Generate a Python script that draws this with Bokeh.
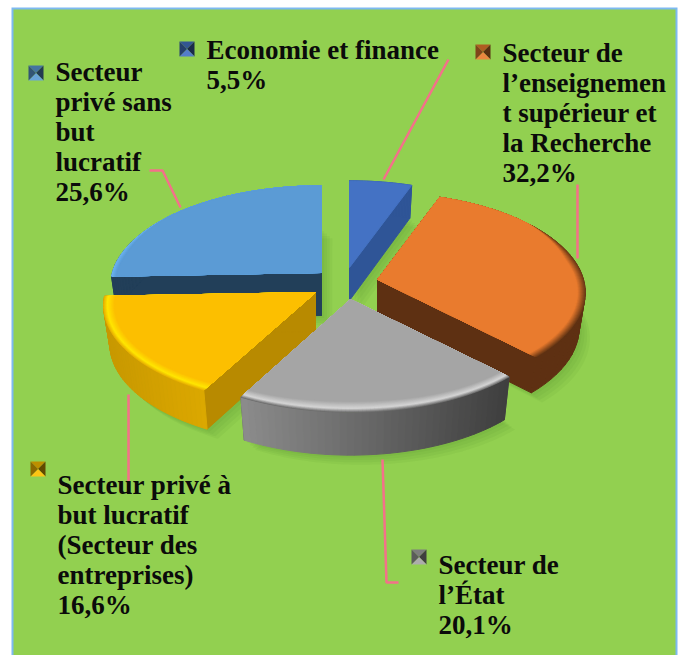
import math
from bokeh.plotting import figure
from bokeh.models import Range1d, ColumnDataSource
from bokeh.core.properties import value
from bokeh.embed import file_html
from bokeh.resources import INLINE

# ---- data ----
categories = ["Economie et finance", "Secteur de l’enseignement supérieur et la Recherche",
              "Secteur de l’État", "Secteur privé à but lucratif (Secteur des entreprises)",
              "Secteur privé sans but lucratif"]
shares = [5.5, 32.2, 20.1, 16.6, 25.6]
label_lines = [["Economie et finance"],
               ["Secteur de", "l’enseignemen", "t supérieur et", "la Recherche"],
               ["Secteur de", "l’État"],
               ["Secteur privé à", "but lucratif", "(Secteur des", "entreprises)"],
               ["Secteur", "privé sans", "but", "lucratif"]]

# ---- layout & style (image pixels) ----
A, B, P = 206.0, 98.0, 0.13
a_scale = [1.0, 1.0, 1.0, 1.02, 1.015]
WALL_X = 0.97
apex = [(349, 267), (377, 279), (350, 299), (315, 292), (321, 272)]
depth = [33, 36, 43, 39, 43]
top_col = ["#4472C4", "#E97B2E", "#A5A5A5", "#FCBF00", "#5B9BD5"]
cut_col = ["#2F5597", "#5E3012", "#5A5A5A", "#B88A00", "#223F59"]
side_l = ["#2F5597", "#5E3012", "#8C8C8C", "#C89800", "#223F59"]
side_r = ["#2F5597", "#5E3012", "#3E3E3E", "#DCA800", "#223F59"]
rim = [[], [("#6A3815", 0), ("#E97B2E", 1)],
       [("#6E6E6E", 0), ("#D6D6D6", .35), ("#A5A5A5", 1)],
       [("#E8B000", 0), ("#FFE600", .35), ("#FCBF00", 1)],
       [("#6DB4F2", 0), ("#5B9BD5", 1)]]
rim_w = [0, 8, 11, 11, 5]
label_pos = [(206, 49), (502, 52), (438, 564), (57, 484), (55, 71)]
marker_pos = [(179, 41), (475, 44), (411, 549), (30, 461), (28, 65)]
leaders = [([448, 383], [59, 179]), ([577, 577], [184, 258]), ([382, 386, 398], [459, 582, 582]),
           ([128, 128], [394, 485]), ([149, 162, 180], [170, 170, 207])]
FONT = "Liberation Serif"
FS = "27px"
LEAD = 30.2


def hex2(c):
    return [int(c[i:i + 2], 16) for i in (1, 3, 5)]


def mix(c1, c2, t):
    a, b = hex2(c1), hex2(c2)
    return "#%02X%02X%02X" % tuple(round(a[i] + (b[i] - a[i]) * t) for i in range(3))


def proj(th, c, sc=1.0):
    u, v = math.sin(th), math.cos(th)
    d = 1 + P * v
    return c[0] + sc * A * u / d, c[1] - B * v / d


def arc(t0, t1, c, sc=1.0, n=70, inset=0.0):
    out = []
    for i in range(n + 1):
        th = t0 + (t1 - t0) * i / n
        x, y = proj(th, c, sc)
        f = min(1, max(0, (0.62 - math.cos(th)) / 0.4))
        r = math.hypot(x - c[0], y - c[1]) or 1
        k = inset * f / r
        out.append((x - (x - c[0]) * k, y - (y - c[1]) * k))
    return out


def low(q, c, d):
    # the matching point on the lower rim of the slice
    return (c[0] + (q[0] - c[0]) * WALL_X, q[1] + d)


# angles from the values
bounds = [0.0]
for s in shares:
    bounds.append(bounds[-1] + s / sum(shares) * 2 * math.pi)

p = figure(width=683, height=655, output_backend="svg", toolbar_location=None,
           x_range=Range1d(0, 683), y_range=Range1d(655, 0), min_border=0,
           background_fill_color="white", border_fill_color="white", outline_line_color=None)
p.axis.visible = False
p.grid.visible = False

# panel
p.quad(left=[11], right=[677], top=[7], bottom=[655], fill_color="#7DB9F0", line_color=None)
p.quad(left=[13], right=[675], top=[9], bottom=[655], fill_color="#92D050", line_color=None)

# soft shadows
sx, sy = [], []
for i in range(5):
    c, d = apex[i], depth[i]
    a = arc(bounds[i], bounds[i + 1], c, a_scale[i])
    poly = [low(c, c, d)] + [low(q, c, d) for q in a]
    for o in (3, 6, 9, 12):
        sx.append([x + o * 0.9 for x, y in poly])
        sy.append([y + o * 0.8 for x, y in poly])
p.patches(sx, sy, fill_color="#2F5F10", fill_alpha=0.05, line_color=None)

# leader lines sit under the text
for xs, ys in leaders:
    p.line(xs, ys, line_color="#F4708A", line_width=2.5)

# slices, back to front
X, Y, C = [], [], []


def add(poly, col):
    X.append([q[0] for q in poly])
    Y.append([q[1] for q in poly])
    C.append(col)


for i in [4, 0, 1, 3, 2]:
    t0, t1 = bounds[i], bounds[i + 1]
    c, d, sc = apex[i], depth[i], a_scale[i]
    # cut walls
    for th in (t0, t1):
        e = proj(th, c, sc)
        add([c, e, low(e, c, d), low(c, c, d)], cut_col[i])
    # outer wall, in strips so its shade can run along the arc
    a = arc(t0, t1, c, sc, n=40)
    xmin, xmax = min(q[0] for q in a), max(q[0] for q in a)
    for j in range(40):
        q0, q1 = a[j], a[j + 1]
        t = ((q0[0] + q1[0]) / 2 - xmin) / ((xmax - xmin) or 1)
        add([q0, q1, low(q1, c, d), low(q0, c, d)], mix(side_l[i], side_r[i], t))
    # top face with its bevelled rim
    steps = 14 if rim[i] else 0
    add([c] + arc(t0, t1, c, sc), rim[i][0][0] if rim[i] else top_col[i])
    stops = rim[i]
    for s in range(1, steps + 1):
        t = s / steps
        for k in range(len(stops) - 1):
            if stops[k][1] <= t <= stops[k + 1][1]:
                tt = (t - stops[k][1]) / (stops[k + 1][1] - stops[k][1])
                col = mix(stops[k][0], stops[k + 1][0], tt)
                break
        add([c] + arc(t0, t1, c, sc, inset=t * rim_w[i]), col)

src = ColumnDataSource(dict(xs=X, ys=Y, col=C))
p.patches("xs", "ys", source=src, fill_color="col", line_color="col", line_width=1)

# bevelled legend keys and labels
mx, my, mc = [], [], []
tx, ty, tt = [], [], []
KEY = 15
for i, name in enumerate(categories):
    kx, ky = marker_pos[i]
    ctr = (kx + KEY / 2, ky + KEY / 2)
    corners = [(kx, ky), (kx + KEY, ky), (kx + KEY, ky + KEY), (kx, ky + KEY)]
    base = top_col[i]
    shades = [mix(base, "#000000", .25), mix(base, "#000000", .62), mix(base, "#FFFFFF", .08),
              mix(base, "#000000", .45)]
    for k in range(4):
        q0, q1 = corners[k], corners[(k + 1) % 4]
        mx.append([q0[0], q1[0], ctr[0]])
        my.append([q0[1], q1[1], ctr[1]])
        mc.append(shades[k])
    lx, ly = label_pos[i]
    rows = label_lines[i] + [f"{shares[i]:.1f}".replace(".", ",") + "%"]
    for r, row in enumerate(rows):
        tx.append(lx)
        ty.append(ly + r * LEAD)
        tt.append(row)
p.patches(mx, my, fill_color=mc, line_color=None)
p.text(tx, ty, text=tt, text_font=value(FONT), text_font_size=FS, text_font_style="bold",
       text_color="#0B0B0B", text_baseline="alphabetic", text_align="left")

open("out.html", "w").write(file_html(p, INLINE))
